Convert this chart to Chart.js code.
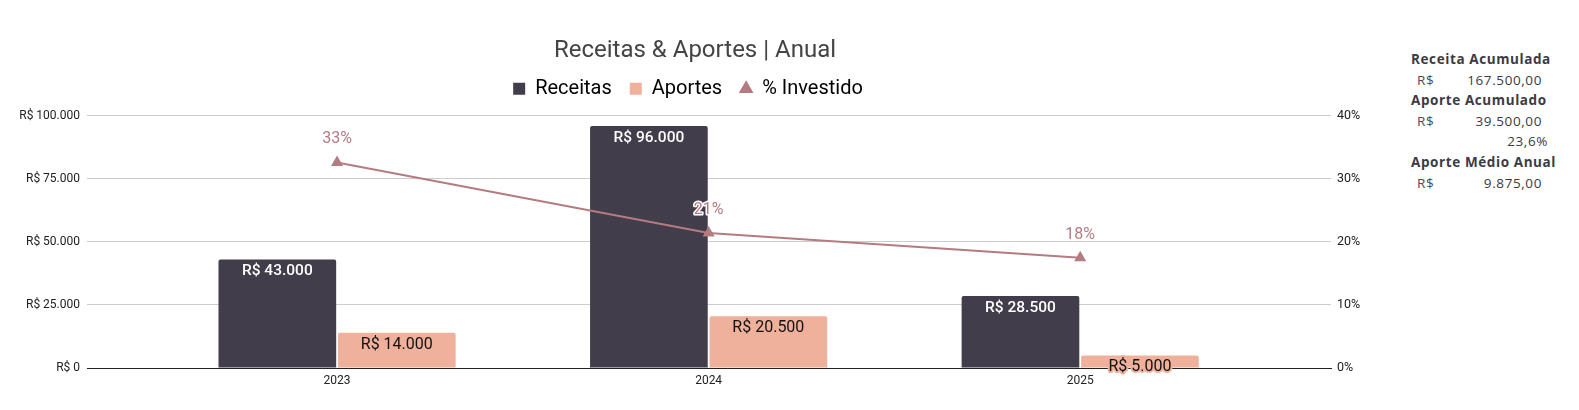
<!DOCTYPE html>
<html lang="pt-BR">
<head>
<meta charset="UTF-8">
<title>Receitas & Aportes | Anual</title>
<style>
    body {
        margin: 0;
        padding: 0;
        background: #fff;
        font-family: Roboto, Arial, sans-serif;
    }
    .wrap {
        position: relative;
        width: 1579px;
        height: 410px;
    }
    .chart-box {
        position: absolute;
        left: 0;
        top: 0;
        width: 1390px;
        height: 410px;
    }
    .side {
        position: absolute;
        left: 1411px;
        top: 49px;
        width: 150px;
        font-family: "Open Sans", Lato, sans-serif;
        font-size: 13.5px;
        letter-spacing: 0.6px;
        color: #3c3a44;
    }
    .side .lbl {
        font-weight: bold;
        height: 20.6px;
        line-height: 20.6px;
        white-space: nowrap;
    }
    .side .row {
        position: relative;
        height: 20.6px;
        line-height: 20.6px;
    }
    .side .row .cur {
        position: absolute;
        left: 6px;
        color: #454a62;
    }
    .side .row .val {
        position: absolute;
        right: 19px;
    }
    .side .pct {
        text-align: right;
        height: 20.6px;
        line-height: 20.6px;
        padding-right: 13px;
    }
</style>
</head>
<body>
<div class="wrap">
    <div class="chart-box"><canvas id="receitasChart"></canvas></div>
    <div class="side" id="side"></div>
</div>

<script src="https://cdn.jsdelivr.net/npm/chart.js"></script>
<script>
// dados
const anos = ["2023", "2024", "2025"];
const receitas = [43000, 96000, 28500];
const aportes = [14000, 20500, 5000];
const investido = [32.6, 21.4, 17.5];
const leftTicks = [0, 25000, 50000, 75000, 100000];
const rightTicks = [0, 10, 20, 30, 40];

const resumoLabels = ["Receita Acumulada", "Aporte Acumulado", "Aporte Médio Anual"];
const resumoValores = ["167.500,00", "39.500,00", "9.875,00"];
const resumoPct = "23,6%";

const corReceitas = "#413d4a";
const corAportes = "#efb19b";
const corLinha = "#b47c80";

function brl(v) {
    return "R$ " + v.toLocaleString("pt-BR");
}

// painel lateral
const side = document.getElementById("side");
resumoLabels.forEach((lbl, i) => {
    let html = `<div class="lbl">${lbl}</div>`;
    html += `<div class="row"><span class="cur">R$</span><span class="val">${resumoValores[i]}</span></div>`;
    if (i === 1) html += `<div class="pct">${resumoPct}</div>`;
    side.innerHTML += html;
});

// rótulos dos valores
const valueLabels = {
    id: "valueLabels",
    afterUpdate(chart) {
        // legenda um pouco à esquerda do centro, como no original
        chart.legend.left -= 7;
        chart.legend.right -= 7;
    },
    afterDatasetsDraw(chart) {
        const ctx = chart.ctx;
        ctx.save();
        ctx.textAlign = "center";
        ctx.textBaseline = "middle";
        ctx.lineJoin = "round";
        chart.data.datasets.forEach((ds, di) => {
            const meta = chart.getDatasetMeta(di);
            meta.data.forEach((el, i) => {
                const v = ds.data[i].y;
                if (di === 0) {
                    ctx.font = "500 15.5px Roboto";
                    ctx.fillStyle = "#ffffff";
                    ctx.fillText(brl(v), el.x, el.y + 12);
                } else if (di === 1) {
                    ctx.font = "16px Roboto";
                    ctx.strokeStyle = corAportes;
                    ctx.lineWidth = 4;
                    ctx.strokeText(brl(v), el.x, el.y + 12);
                    ctx.fillStyle = "#111111";
                    ctx.fillText(brl(v), el.x, el.y + 12);
                } else {
                    ctx.font = "16px Roboto";
                    const t = Math.round(v) + "%";
                    ctx.strokeStyle = "#ffffff";
                    ctx.lineWidth = 3;
                    ctx.strokeText(t, el.x, el.y - 23);
                    ctx.fillStyle = corLinha;
                    ctx.fillText(t, el.x, el.y - 23);
                }
            });
        });
        ctx.restore();
    }
};

const ctx = document.getElementById("receitasChart").getContext("2d");
new Chart(ctx, {
    data: {
        datasets: [{
            type: "bar",
            label: "Receitas",
            data: anos.map((a, i) => ({ x: i, y: receitas[i] })),
            backgroundColor: corReceitas,
            borderRadius: 2,
            borderSkipped: "bottom",
            categoryPercentage: 0.643,
            barPercentage: 0.985,
            yAxisID: "y",
            order: 2
        },
        {
            type: "bar",
            label: "Aportes",
            data: anos.map((a, i) => ({ x: i, y: aportes[i] })),
            backgroundColor: corAportes,
            borderRadius: 2,
            borderSkipped: "bottom",
            categoryPercentage: 0.643,
            barPercentage: 0.985,
            yAxisID: "y",
            order: 2
        },
        {
            type: "line",
            label: "% Investido",
            data: anos.map((a, i) => ({ x: i, y: investido[i] })),
            borderColor: corLinha,
            backgroundColor: corLinha,
            borderWidth: 2,
            pointStyle: "triangle",
            pointRadius: 5,
            pointHoverRadius: 5,
            tension: 0,
            yAxisID: "y1",
            order: 1
        }]
    },
    options: {
        responsive: true,
        maintainAspectRatio: false,
        animation: false,
        layout: { padding: 0 },
        plugins: {
            tooltip: { enabled: false },
            title: {
                display: true,
                text: "Receitas & Aportes | Anual",
                color: "#444",
                font: { family: "Roboto", size: 24, weight: "normal" },
                padding: { top: 37, bottom: 0 }
            },
            // espaçador abaixo da legenda
            subtitle: {
                display: true,
                text: " ",
                position: "top",
                weight: 500,
                font: { size: 1, lineHeight: 1 },
                padding: { top: 0, bottom: 6 }
            },
            legend: {
                labels: {
                    color: "#3c3c44",
                    font: { family: "Roboto", size: 20 },
                    usePointStyle: true,
                    boxWidth: 12,
                    boxHeight: 12,
                    padding: 13,
                    generateLabels(chart) {
                        const n = chart.data.datasets.length;
                        return chart.data.datasets.map((ds, i) => ({
                            text: i < n - 1 ? ds.label + " " : ds.label,
                            fillStyle: ds.backgroundColor,
                            strokeStyle: ds.backgroundColor,
                            lineWidth: 0,
                            pointStyle: i === 2 ? "triangle" : "rect",
                            datasetIndex: i
                        }));
                    }
                }
            }
        },
        scales: {
            x: {
                type: "linear",
                offset: false,
                min: -0.673,
                max: 2.675,
                afterBuildTicks(scale) {
                    scale.ticks = anos.map((a, i) => ({ value: i }));
                },
                afterFit(scale) { scale.height = 42; },
                ticks: {
                    callback: (v) => anos[v],
                    color: "#222",
                    font: { family: "Roboto", size: 12 },
                    padding: 6
                },
                grid: { display: false, drawTicks: false },
                border: { color: "#222", width: 1 }
            },
            y: {
                position: "left",
                min: 0,
                max: 100000,
                afterBuildTicks(scale) {
                    scale.ticks = leftTicks.map((v) => ({ value: v }));
                },
                afterFit(scale) { scale.width = 87; },
                ticks: {
                    callback: (v) => brl(v),
                    color: "#222",
                    font: { family: "Roboto", size: 12 },
                    padding: 7
                },
                grid: {
                    color: (c) => c.tick && c.tick.value === 0 ? "#222" : "#cccccc",
                    drawTicks: false
                },
                border: { display: false }
            },
            y1: {
                position: "right",
                min: 0,
                max: 40,
                afterBuildTicks(scale) {
                    scale.ticks = rightTicks.map((v) => ({ value: v }));
                },
                afterFit(scale) { scale.width = 59; },
                ticks: {
                    callback: (v) => v + "%",
                    color: "#222",
                    font: { family: "Roboto", size: 12.5 },
                    padding: 6
                },
                grid: { display: false, drawTicks: false },
                border: { display: false }
            }
        }
    },
    plugins: [valueLabels]
});
</script>
</body>
</html>
